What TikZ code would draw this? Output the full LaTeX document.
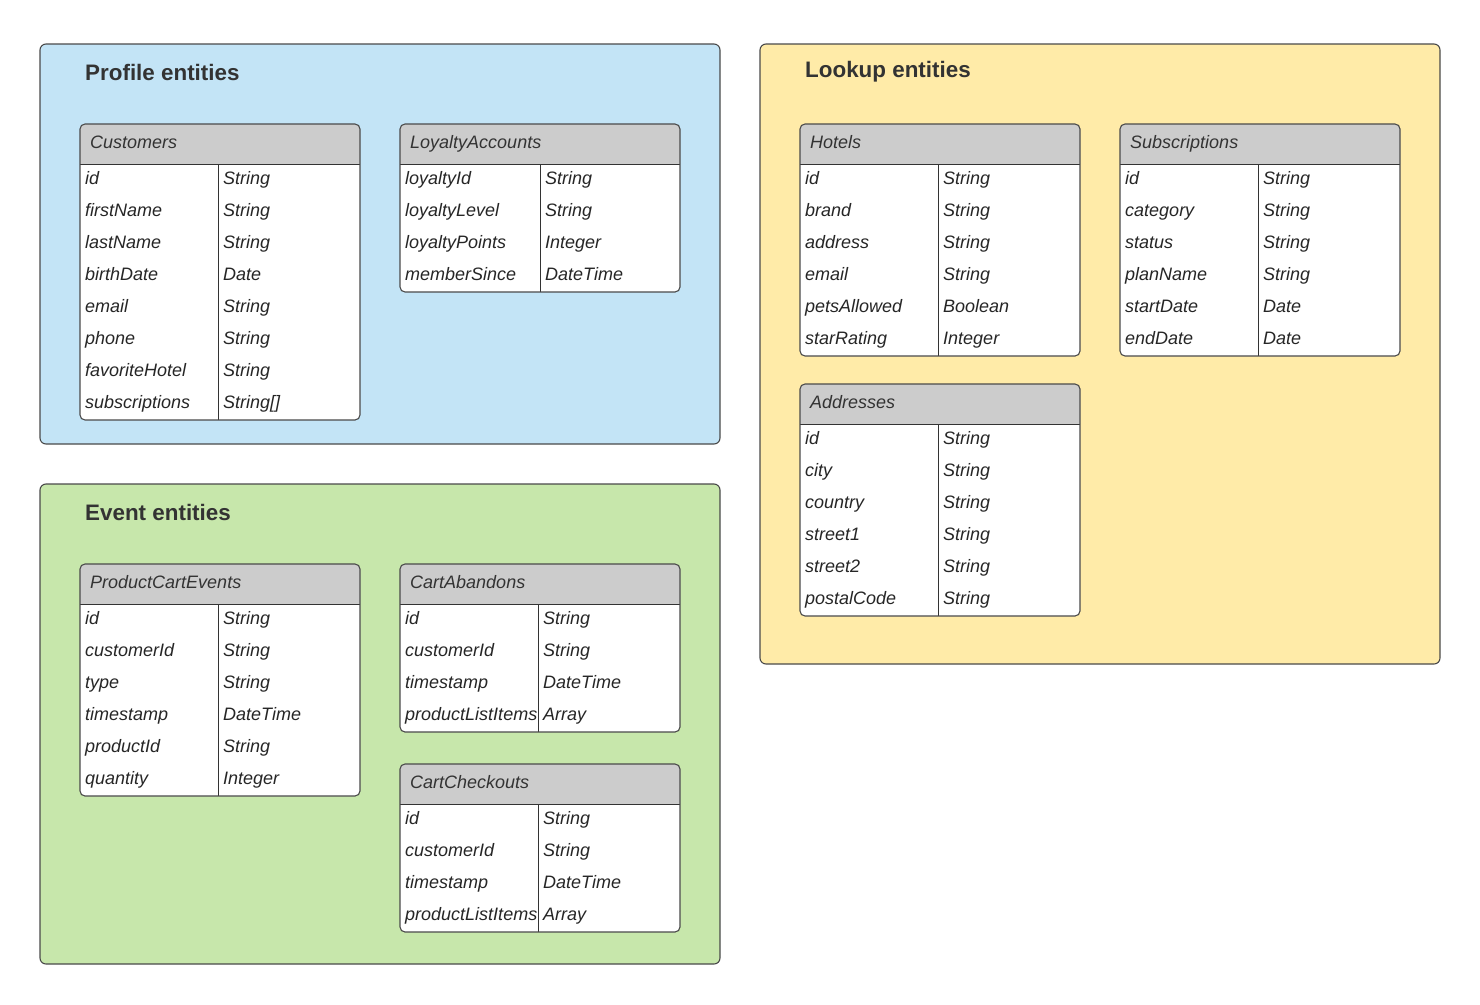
\documentclass[tikz,border=0pt]{standalone}
\usepackage{fontspec}
\setmainfont{Liberation Sans}
\definecolor{profileblue}{HTML}{C3E4F6}
\definecolor{eventgreen}{HTML}{C7E7AB}
\definecolor{lookupyellow}{HTML}{FFEBA8}
\definecolor{headgray}{HTML}{CCCCCC}
\definecolor{framegray}{HTML}{4A4A4A}
\definecolor{inkgray}{HTML}{333333}
\begin{document}
\begin{tikzpicture}[x=1pt, y=-1pt,
  groupbox/.style={draw=framegray, line width=1.1pt, rounded corners=6},
  grouptitle/.style={anchor=base west, inner sep=0pt, text=inkgray, font=\fontsize{22.4}{24}\selectfont\bfseries},
  tablebody/.style={fill=white, rounded corners=5},
  tablehead/.style={fill=headgray, rounded corners=5},
  tableframe/.style={draw=framegray, line width=1.1pt, rounded corners=5},
  tableline/.style={draw=inkgray, line width=1pt},
  headtext/.style={anchor=base west, inner sep=0pt, text=inkgray, font=\fontsize{18}{20}\selectfont\itshape},
  celltext/.style={anchor=base west, inner sep=0pt, text=black!85, font=\fontsize{18}{20}\selectfont\itshape}]
  \useasboundingbox (0,0) rectangle (1480,1004);

  % Group boxes
  \draw[groupbox, fill=profileblue] (40,44) rectangle (720,444);
  \draw[groupbox, fill=eventgreen] (40,484) rectangle (720,964);
  \draw[groupbox, fill=lookupyellow] (760,44) rectangle (1440,664);
  \node[grouptitle] (profile) at (85,80) {Profile entities};
  \node[grouptitle] (event) at (85,520) {Event entities};
  \node[grouptitle] (lookup) at (805,77) {Lookup entities};

  % Customers
  \path[tablebody] (80,124) rectangle (360,420);
  \path[tablehead] (80,164) -- (80,124) -- (360,124) -- (360,164);
  \draw[tableline] (80,164) -- (360,164) (218,164) -- (218,420);
  \draw[tableframe] (80,124) rectangle (360,420);
  \node[headtext] (cust) at (90,148) {Customers};
  \foreach \f/\t [count=\i] in {id/String, firstName/String, lastName/String, birthDate/Date,
      email/String, phone/String, favoriteHotel/String, subscriptions/String[]}
  {
    \node[celltext] (cust-f\i) at (85,152.5+32*\i) {\f};
    \node[celltext] (cust-t\i) at (223,152.5+32*\i) {\t};
  }

  % LoyaltyAccounts
  \path[tablebody] (400,124) rectangle (680,292);
  \path[tablehead] (400,164) -- (400,124) -- (680,124) -- (680,164);
  \draw[tableline] (400,164) -- (680,164) (540,164) -- (540,292);
  \draw[tableframe] (400,124) rectangle (680,292);
  \node[headtext] (loyal) at (410,148) {LoyaltyAccounts};
  \foreach \f/\t [count=\i] in {loyaltyId/String, loyaltyLevel/String, loyaltyPoints/Integer,
      memberSince/DateTime}
  {
    \node[celltext] (loyal-f\i) at (405,152.5+32*\i) {\f};
    \node[celltext] (loyal-t\i) at (545,152.5+32*\i) {\t};
  }

  % ProductCartEvents
  \path[tablebody] (80,564) rectangle (360,796);
  \path[tablehead] (80,604) -- (80,564) -- (360,564) -- (360,604);
  \draw[tableline] (80,604) -- (360,604) (218,604) -- (218,796);
  \draw[tableframe] (80,564) rectangle (360,796);
  \node[headtext] (prod) at (90,588) {ProductCartEvents};
  \foreach \f/\t [count=\i] in {id/String, customerId/String, type/String, timestamp/DateTime,
      productId/String, quantity/Integer}
  {
    \node[celltext] (prod-f\i) at (85,592.5+32*\i) {\f};
    \node[celltext] (prod-t\i) at (223,592.5+32*\i) {\t};
  }

  % CartAbandons
  \path[tablebody] (400,564) rectangle (680,732);
  \path[tablehead] (400,604) -- (400,564) -- (680,564) -- (680,604);
  \draw[tableline] (400,604) -- (680,604) (538,604) -- (538,732);
  \draw[tableframe] (400,564) rectangle (680,732);
  \node[headtext] (aband) at (410,588) {CartAbandons};
  \foreach \f/\t [count=\i] in {id/String, customerId/String, timestamp/DateTime,
      productListItems/Array}
  {
    \node[celltext] (aband-f\i) at (405,592.5+32*\i) {\f};
    \node[celltext] (aband-t\i) at (543,592.5+32*\i) {\t};
  }

  % CartCheckouts
  \path[tablebody] (400,764) rectangle (680,932);
  \path[tablehead] (400,804) -- (400,764) -- (680,764) -- (680,804);
  \draw[tableline] (400,804) -- (680,804) (538,804) -- (538,932);
  \draw[tableframe] (400,764) rectangle (680,932);
  \node[headtext] (check) at (410,788) {CartCheckouts};
  \foreach \f/\t [count=\i] in {id/String, customerId/String, timestamp/DateTime,
      productListItems/Array}
  {
    \node[celltext] (check-f\i) at (405,792.5+32*\i) {\f};
    \node[celltext] (check-t\i) at (543,792.5+32*\i) {\t};
  }

  % Hotels
  \path[tablebody] (800,124) rectangle (1080,356);
  \path[tablehead] (800,164) -- (800,124) -- (1080,124) -- (1080,164);
  \draw[tableline] (800,164) -- (1080,164) (938,164) -- (938,356);
  \draw[tableframe] (800,124) rectangle (1080,356);
  \node[headtext] (hotel) at (810,148) {Hotels};
  \foreach \f/\t [count=\i] in {id/String, brand/String, address/String, email/String,
      petsAllowed/Boolean, starRating/Integer}
  {
    \node[celltext] (hotel-f\i) at (805,152.5+32*\i) {\f};
    \node[celltext] (hotel-t\i) at (943,152.5+32*\i) {\t};
  }

  % Subscriptions
  \path[tablebody] (1120,124) rectangle (1400,356);
  \path[tablehead] (1120,164) -- (1120,124) -- (1400,124) -- (1400,164);
  \draw[tableline] (1120,164) -- (1400,164) (1258,164) -- (1258,356);
  \draw[tableframe] (1120,124) rectangle (1400,356);
  \node[headtext] (subs) at (1130,148) {Subscriptions};
  \foreach \f/\t [count=\i] in {id/String, category/String, status/String, planName/String,
      startDate/Date, endDate/Date}
  {
    \node[celltext] (subs-f\i) at (1125,152.5+32*\i) {\f};
    \node[celltext] (subs-t\i) at (1263,152.5+32*\i) {\t};
  }

  % Addresses
  \path[tablebody] (800,384) rectangle (1080,616);
  \path[tablehead] (800,424) -- (800,384) -- (1080,384) -- (1080,424);
  \draw[tableline] (800,424) -- (1080,424) (938,424) -- (938,616);
  \draw[tableframe] (800,384) rectangle (1080,616);
  \node[headtext] (addr) at (810,408) {Addresses};
  \foreach \f/\t [count=\i] in {id/String, city/String, country/String, street1/String,
      street2/String, postalCode/String}
  {
    \node[celltext] (addr-f\i) at (805,412.5+32*\i) {\f};
    \node[celltext] (addr-t\i) at (943,412.5+32*\i) {\t};
  }
\end{tikzpicture}
\end{document}
